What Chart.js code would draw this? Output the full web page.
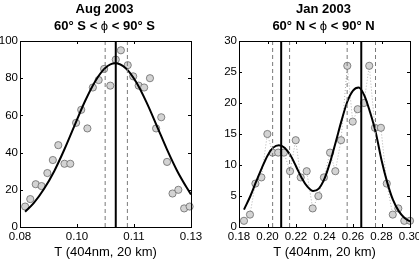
<!DOCTYPE html>
<html>
<head>
<meta charset="utf-8">
<script src="https://cdn.jsdelivr.net/npm/chart.js@4.4.0/dist/chart.umd.min.js"></script>
<style>
html, body { margin: 0; padding: 0; background: #fff; }
#wrap { position: relative; width: 419px; height: 261px; overflow: hidden; }
canvas { position: absolute; top: 0; }
#aug { left: 0; }
#jan { left: 209px; }
</style>
</head>
<body>
<div id="wrap">
<canvas id="aug" width="210" height="261"></canvas>
<canvas id="jan" width="210" height="261"></canvas>
</div>
<script>
// Aug 2003, 60S-90S
var augT = [0.0815, 0.0830, 0.0846, 0.0863, 0.0880, 0.0896, 0.0912, 0.0930, 0.0947, 0.0964,
            0.0979, 0.0997, 0.1013, 0.1030, 0.1046, 0.1064, 0.1080, 0.1095, 0.1115, 0.1131,
            0.1147, 0.1163, 0.1180, 0.1198, 0.1213, 0.1230, 0.1246, 0.1263, 0.1280, 0.1296];
var augN = [11, 15, 23, 22, 29, 36, 44, 34, 34, 56,
            63, 53, 75, 79, 85, 76, 90, 95, 87, 81,
            76, 75, 80, 53, 59, 35, 18, 20, 10, 11];
var augFitT = [0.0815, 0.084, 0.087, 0.090, 0.093, 0.096, 0.099, 0.102, 0.105, 0.1078,
               0.111, 0.114, 0.117, 0.120, 0.123, 0.126, 0.129, 0.130];
var augFitN = [8.2, 12.8, 20.4, 30.0, 41.8, 54.8, 67.6, 78.4, 85.6, 88.0,
               85.2, 77.8, 67.0, 54.4, 41.6, 30.0, 20.4, 17.5];
var augMean = [0.1080];
var augBand = [0.1049, 0.1114];
var augTicksX = [0.08, 0.0966667, 0.1133333, 0.13];
var augTickLabels = ['0.08', '0.10', '0.11', '0.13'];

// Jan 2003, 60N-90N
var janT = [0.1835, 0.1877, 0.1915, 0.1957, 0.1999, 0.2035, 0.2075, 0.2115, 0.2158, 0.2198,
            0.2233, 0.2275, 0.2317, 0.2357, 0.2396, 0.2439, 0.2476, 0.2516, 0.2560, 0.2598,
            0.2633, 0.2677, 0.2714, 0.2754, 0.2796, 0.2837, 0.2879, 0.2918, 0.2960, 0.3000];
var janN = [1, 2, 7, 8, 15, 12, 12, 12, 9, 14,
            8, 9, 3, 5, 8, 12, 9, 14, 26, 17,
            19, 20, 26, 16, 16, 7, 2, 3, 1, 1];
var janFitT = [0.1835, 0.188, 0.192, 0.196, 0.200, 0.204, 0.208, 0.212, 0.216, 0.220,
               0.224, 0.228, 0.232, 0.236, 0.240, 0.244, 0.248, 0.252, 0.256, 0.260,
               0.264, 0.268, 0.272, 0.276, 0.280, 0.284, 0.288, 0.292, 0.296, 0.300];
var janFitN = [2.8, 5.0, 7.3, 9.5, 11.5, 12.8, 13.2, 12.8, 11.6, 9.8,
               7.9, 6.5, 5.8, 6.2, 7.8, 10.5, 13.8, 17.2, 20.2, 22.0,
               22.5, 21.2, 18.5, 15.2, 10.8, 7.2, 4.4, 2.6, 1.5, 0.9];
var janMean = [0.2096, 0.2658];
var janBand = [0.2036, 0.2155, 0.2559, 0.2758];
var janTicksX = [0.18, 0.20, 0.22, 0.24, 0.26, 0.28, 0.30];
var janTickLabels = ['0.18', '0.20', '0.22', '0.24', '0.26', '0.28', '0.30'];

var FONT = '"Liberation Sans", Arial, "DejaVu Sans", sans-serif';
Chart.defaults.font.family = FONT;
Chart.defaults.color = '#000';

// frame, inward ticks on all four sides and the two line title
var boxPlugin = {
  id: 'box',
  afterDatasetsDraw: function (chart, args, opts) {
    var ctx = chart.ctx, a = chart.chartArea;
    var xs = chart.scales.x, ys = chart.scales.y;
    ctx.save();
    ctx.strokeStyle = '#000';
    ctx.lineWidth = 1;
    ctx.beginPath();
    xs.ticks.forEach(function (t) {
      var px = Math.round(xs.getPixelForValue(t.value)) + 0.5;
      ctx.moveTo(px, a.bottom); ctx.lineTo(px, a.bottom - 3);
      ctx.moveTo(px, a.top); ctx.lineTo(px, a.top + 3);
    });
    ys.ticks.forEach(function (t) {
      var py = Math.round(ys.getPixelForValue(t.value)) + 0.5;
      ctx.moveTo(a.left, py); ctx.lineTo(a.left + 3, py);
      ctx.moveTo(a.right, py); ctx.lineTo(a.right - 3, py);
    });
    ctx.stroke();
    ctx.strokeRect(a.left + 0.5, a.top + 0.5, a.right - a.left, a.bottom - a.top);

    var cx = (a.left + a.right) / 2 - 1;
    ctx.fillStyle = '#000';
    ctx.textAlign = 'left';
    ctx.textBaseline = 'alphabetic';
    ctx.font = 'bold 13px ' + FONT;
    var w1 = ctx.measureText(opts.line1).width;
    ctx.fillText(opts.line1, cx - w1 / 2, 13);
    var fonts = ['bold 13px ', '13px ', 'bold 13px '];
    var widths = opts.line2.map(function (p, i) {
      ctx.font = fonts[i] + FONT;
      return ctx.measureText(p).width;
    });
    var x0 = cx - (widths[0] + widths[1] + widths[2]) / 2;
    opts.line2.forEach(function (p, i) {
      ctx.font = fonts[i] + FONT;
      ctx.fillText(p, x0, 29.5);
      x0 += widths[i];
    });
    ctx.restore();
  }
};

function pts(xs, ys) {
  return xs.map(function (v, i) { return { x: v, y: ys[i] }; });
}

function vline(v, top, dashed) {
  return {
    type: 'line',
    data: [{ x: v, y: 0 }, { x: v, y: top }],
    borderColor: dashed ? '#7a7a7a' : '#000',
    borderWidth: dashed ? 1 : 2,
    borderDash: dashed ? [4, 3] : [],
    pointRadius: 0,
    order: 1
  };
}

function makePanel(id, p) {
  var datasets = [];
  if (p.dotted) {
    datasets.push({
      type: 'line',
      data: pts(p.t, p.n),
      borderColor: '#b0b0b0',
      borderWidth: 1,
      borderDash: [1, 2],
      pointRadius: 0,
      order: 4
    });
  }
  datasets.push({
    type: 'scatter',
    data: pts(p.t, p.n),
    pointRadius: 3.6,
    backgroundColor: '#d3d3d3',
    borderColor: '#6a6a6a',
    borderWidth: 0.8,
    clip: false,
    order: 3
  });
  datasets.push({
    type: 'line',
    data: pts(p.fitT, p.fitN),
    borderColor: '#000',
    borderWidth: 2,
    pointRadius: 0,
    tension: 0.4,
    cubicInterpolationMode: 'monotone',
    order: 2
  });
  p.mean.forEach(function (v) { datasets.push(vline(v, p.ymax, false)); });
  p.band.forEach(function (v) { datasets.push(vline(v, p.ymax, true)); });

  return new Chart(document.getElementById(id).getContext('2d'), {
    type: 'scatter',
    data: { datasets: datasets },
    plugins: [boxPlugin],
    options: {
      responsive: false,
      maintainAspectRatio: false,
      animation: false,
      layout: { padding: { top: 41, right: p.padRight, bottom: 0, left: 0 } },
      plugins: {
        legend: { display: false },
        tooltip: { enabled: false },
        box: { line1: p.line1, line2: p.line2 }
      },
      scales: {
        x: {
          type: 'linear',
          min: p.xmin,
          max: p.xmax,
          afterBuildTicks: function (s) {
            s.ticks = p.ticks.map(function (v) { return { value: v }; });
          },
          afterFit: function (s) {
            s.height = 34;
            s.paddingLeft = 0;
            s.paddingRight = 0;
          },
          grid: { display: false, drawTicks: false },
          border: { display: false },
          ticks: {
            callback: function (v, i) { return p.labels[i]; },
            font: { size: 11.5 },
            padding: 3,
            maxRotation: 0,
            autoSkip: false
          },
          title: {
            display: true,
            text: 'T (404nm, 20 km)',
            font: { size: 13 },
            padding: { top: 0, bottom: 1 }
          }
        },
        y: {
          min: 0,
          max: p.ymax,
          afterFit: function (s) {
            s.width = p.yWidth;
            s.paddingTop = 0;
            s.paddingBottom = 0;
          },
          grid: { display: false, drawTicks: false },
          border: { display: false },
          ticks: { stepSize: p.ystep, font: { size: 11.5 }, padding: 2 }
        }
      }
    }
  });
}

var augChart = makePanel('aug', {
  t: augT, n: augN, fitT: augFitT, fitN: augFitN,
  mean: augMean, band: augBand,
  xmin: 0.08, xmax: 0.13, ticks: augTicksX, labels: augTickLabels,
  ymax: 100, ystep: 20, yWidth: 20, padRight: 19,
  line1: 'Aug 2003', line2: ['60° S < ', 'ϕ', ' < 90° S'],
  dotted: false
});

var janChart = makePanel('jan', {
  t: janT, n: janN, fitT: janFitT, fitN: janFitN,
  mean: janMean, band: janBand,
  xmin: 0.18, xmax: 0.30, ticks: janTicksX, labels: janTickLabels,
  ymax: 30, ystep: 5, yWidth: 30, padRight: 9,
  line1: 'Jan 2003', line2: ['60° N < ', 'ϕ', ' < 90° N'],
  dotted: true
});
</script>
</body>
</html>
